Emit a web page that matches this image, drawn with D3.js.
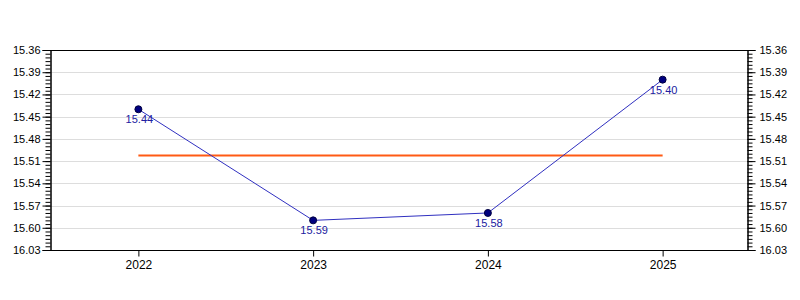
<!DOCTYPE html>
<html>
<head>
<meta charset="utf-8">
<script src="https://cdn.jsdelivr.net/npm/d3@7"></script>
<style>
 body { margin: 0; background: #fff; }
 text { font-family: "Liberation Sans", Arial, sans-serif; }
</style>
</head>
<body>
<svg id="chart"></svg>
<script>
// данные графика
const years = ["2022", "2023", "2024", "2025"];
const values = [15.44, 15.59, 15.58, 15.40];
const tickValues = [15.36, 15.39, 15.42, 15.45, 15.48, 15.51, 15.54, 15.57, 15.60, 15.63];
const tickLabels = ["15.36", "15.39", "15.42", "15.45", "15.48", "15.51", "15.54", "15.57", "15.60", "16.03"];

const width = 800;
const height = 300;
const plotLeft = 50, plotRight = 747, plotTop = 50, plotBottom = 250;

let svg = d3.select("#chart")
    .attr("width", width)
    .attr("height", height);

let scaleX = d3.scalePoint()
    .domain(years)
    .range([plotLeft + 1, plotRight + 3])
    .padding(0.5);

// ось перевернута: меньшие значения сверху
let scaleY = d3.scaleLinear()
    .domain([15.36, 15.63])
    .range([plotTop, plotBottom]);

let minorTicks = d3.range(0, 55).map(i => 15.36 + i * 0.005);

// сетка
svg.append("g")
    .selectAll("line")
    .data(tickValues)
    .enter()
    .append("line")
    .attr("x1", plotLeft)
    .attr("x2", plotRight)
    .attr("y1", d => Math.round(scaleY(d)) + 0.5)
    .attr("y2", d => Math.round(scaleY(d)) + 0.5)
    .attr("stroke", "#dddddd");

// левая ось
let axisLeft = d3.axisLeft(scaleY)
    .tickValues(tickValues)
    .tickFormat((d, i) => tickLabels[i])
    .tickSize(8)
    .tickPadding(2);
let gl = svg.append("g")
    .attr("transform", `translate(${plotLeft + 0.5}, 0)`)
    .call(axisLeft);

let axisLeftMinor = d3.axisLeft(scaleY)
    .tickValues(minorTicks)
    .tickFormat("")
    .tickSize(5);
svg.append("g")
    .attr("transform", `translate(${plotLeft + 0.5}, 0)`)
    .call(axisLeftMinor);

// правая ось
let axisRight = d3.axisRight(scaleY)
    .tickValues(tickValues)
    .tickFormat((d, i) => tickLabels[i])
    .tickSize(8)
    .tickPadding(4);
let gr = svg.append("g")
    .attr("transform", `translate(${plotRight + 0.5}, 0)`)
    .call(axisRight);

let axisRightMinor = d3.axisRight(scaleY)
    .tickValues(minorTicks)
    .tickFormat("")
    .tickSize(5);
svg.append("g")
    .attr("transform", `translate(${plotRight + 0.5}, 0)`)
    .call(axisRightMinor);

// нижняя ось
let axisBottom = d3.axisBottom(scaleX)
    .tickSize(6)
    .tickSizeOuter(0)
    .tickPadding(4);
let gb = svg.append("g")
    .attr("transform", `translate(0, ${plotBottom + 0.5})`)
    .call(axisBottom);
gb.select(".domain").attr("d", `M${plotLeft},0H${plotRight + 1}`);

svg.selectAll(".domain").attr("stroke", "#000");
svg.selectAll("g.tick line").attr("stroke", "#000");
svg.selectAll("g text").style("font-family", "'Liberation Sans', Arial, sans-serif").attr("fill", "#000");
gl.selectAll("text").style("font-size", "11px");
gr.selectAll("text").style("font-size", "11px");
gb.selectAll("text").style("font-size", "12px");

// верхняя рамка
svg.append("line")
    .attr("x1", plotLeft)
    .attr("x2", plotRight + 1)
    .attr("y1", plotTop + 0.5)
    .attr("y2", plotTop + 0.5)
    .attr("stroke", "#000");

// линия среднего
let mean = d3.mean(values);
svg.append("line")
    .attr("x1", scaleX(years[0]))
    .attr("x2", scaleX(years[years.length - 1]))
    .attr("y1", scaleY(mean))
    .attr("y2", scaleY(mean))
    .attr("stroke", "#ff5a14")
    .attr("stroke-width", 2);

// линия данных
let line = d3.line()
    .x((d, i) => scaleX(years[i]))
    .y(d => scaleY(d));
svg.append("path")
    .datum(values)
    .attr("d", line)
    .attr("fill", "none")
    .attr("stroke", "#3030c0")
    .attr("stroke-width", 1);

// точки
svg.selectAll(".dot")
    .data(values)
    .enter()
    .append("circle")
    .attr("r", 3.5)
    .attr("cx", (d, i) => scaleX(years[i]))
    .attr("cy", d => scaleY(d))
    .attr("fill", "#000080")
    .attr("stroke", "#000040")
    .attr("stroke-width", 1);

// подписи значений
svg.selectAll(".label")
    .data(values)
    .enter()
    .append("text")
    .attr("x", (d, i) => scaleX(years[i]) + 1)
    .attr("y", d => scaleY(d) + 14)
    .attr("text-anchor", "middle")
    .style("font-size", "11px")
    .attr("fill", "#2020a0")
    .text(d => d.toFixed(2));
</script>
</body>
</html>
